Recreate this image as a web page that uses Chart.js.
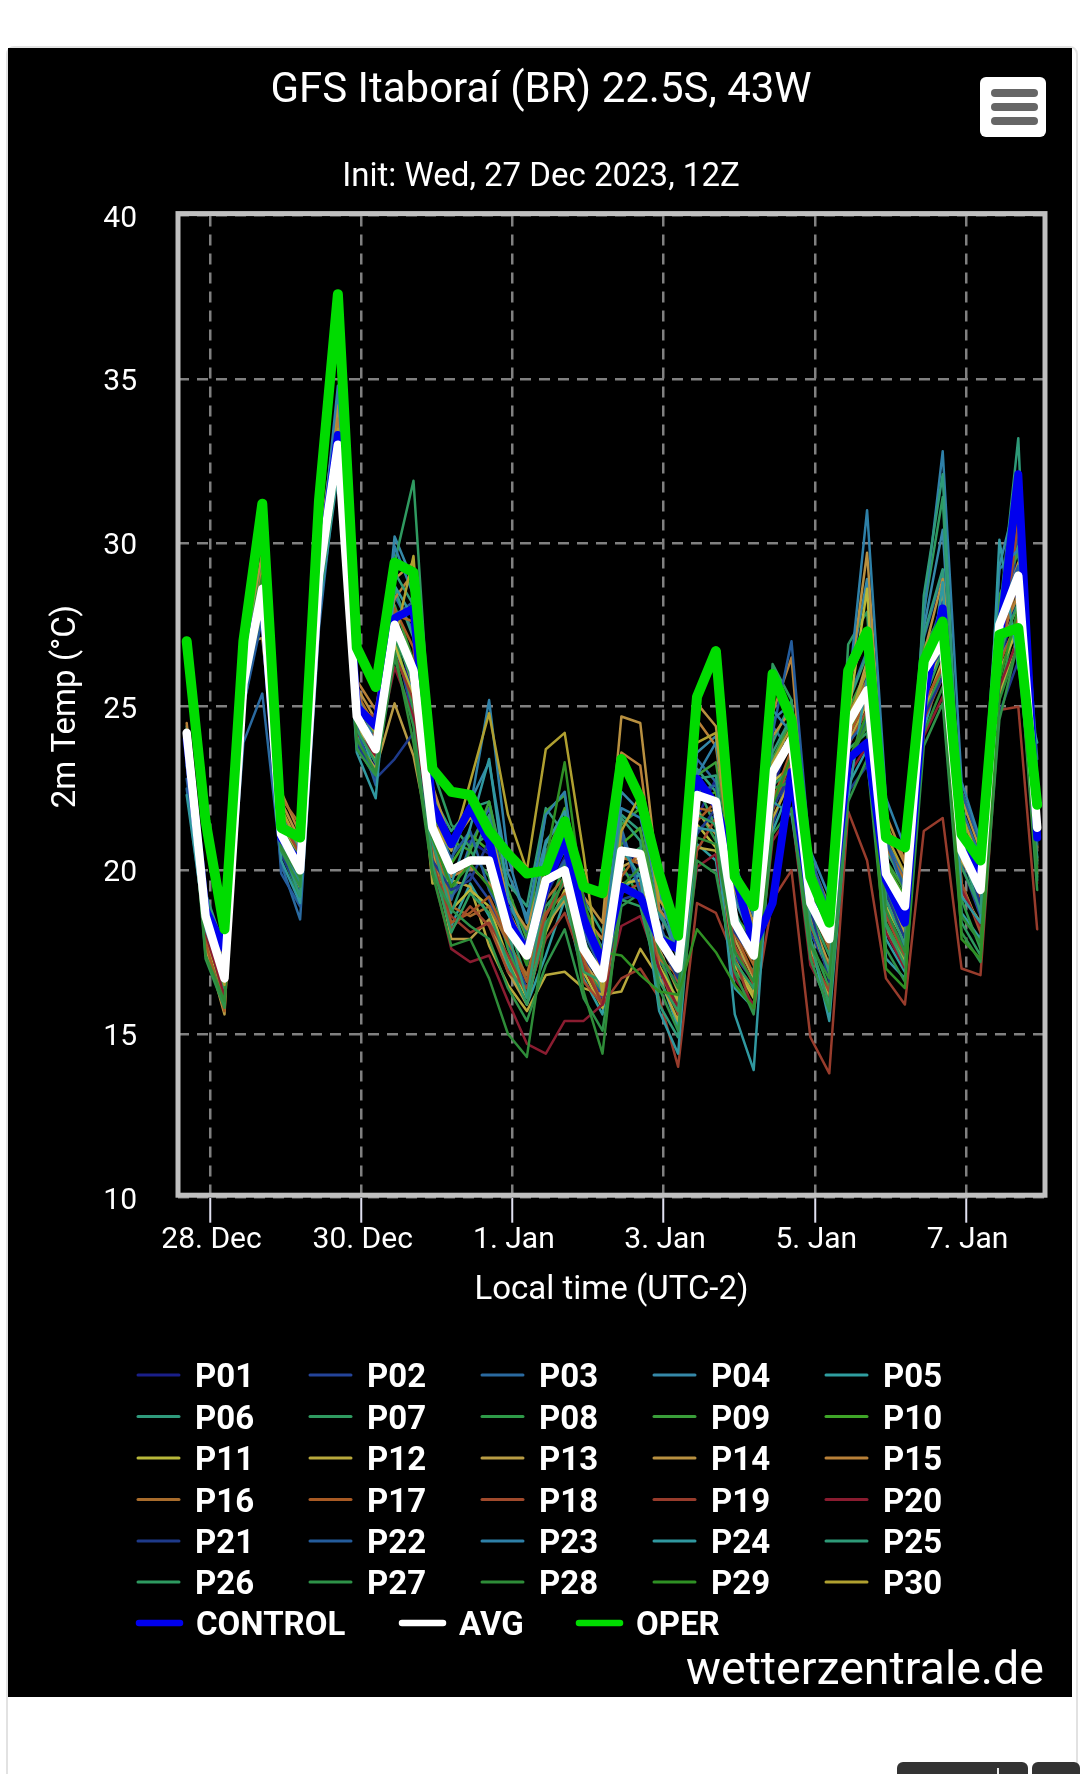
<!DOCTYPE html>
<html><head><meta charset="utf-8">
<style>
html,body{margin:0;padding:0;background:#fff;width:1080px;height:1774px;overflow:hidden;position:relative}
#frame{position:absolute;left:6px;top:46px;width:1068px;height:1740px;border:2px solid #e2e2e2;border-radius:8px;box-sizing:content-box}
#panel{position:absolute;left:8px;top:48px;width:1064px;height:1649px;background:#000}
#menu{position:absolute;left:980px;top:77px;width:66px;height:60px;background:#fff;border-radius:6px}
#menu i{position:absolute;left:11px;width:47px;height:8px;border-radius:4px;background:#666}
.btn{position:absolute;top:1762px;height:14px;background:#333;border-radius:6px 6px 0 0}
#notch{position:absolute;left:997px;top:1768px;width:2px;height:6px;background:#eee}
canvas{position:absolute;left:0;top:0}
</style>
<script src="https://cdn.jsdelivr.net/npm/chart.js@4"></script>
</head><body>
<div id="frame"></div><div id="panel"></div>
<canvas id="c" width="1080" height="1774"></canvas>
<div id="menu"><i style="top:12px"></i><i style="top:26px"></i><i style="top:40px"></i></div>
<div class="btn" style="left:897px;width:131px"></div><div class="btn" style="left:1032px;width:48px"></div><div id="notch"></div>
<script>
const hours=[-7.4,-1.4,4.6,10.6,16.6,22.6,28.6,34.6,40.6,46.6,52.6,58.6,64.6,70.6,76.6,82.6,88.6,94.6,100.6,106.6,112.6,118.6,124.6,130.6,136.6,142.6,148.6,154.6,160.6,166.6,172.6,178.6,184.6,190.6,196.6,202.6,208.6,214.6,220.6,226.6,232.6,238.6,244.6,250.6,256.6,262.6];
const tickHours=[0,48,96,144,192,240];
const tickLabels=['28. Dec','30. Dec','1. Jan','3. Jan','5. Jan','7. Jan'];
const yTicks=[10,15,20,25,30,35,40];

const p01=[24.0,18.9,17.2,25.9,28.9,21.2,20.3,28.7,33.6,24.9,23.2,27.9,25.1,21.8,20.6,20.9,20.5,18.6,17.8,19.2,20.4,18.3,17.3,20.9,20.1,18.2,17.1,21.6,22.8,18.7,17.6,22.4,24.3,19.4,17.7,23.6,26.2,20.4,18.6,25.3,27.6,20.9,19.1,26.2,28.6,22.1];
const p02=[23.6,18.4,16.8,25.1,27.9,20.8,19.6,28.2,33.9,24.3,23.9,27.1,24.6,20.9,19.2,19.9,19.1,17.7,16.4,18.3,19.2,17.4,16.1,19.9,19.8,17.2,16.6,21.2,21.7,17.4,16.6,21.4,23.2,18.1,16.9,23.1,24.7,18.7,17.6,25.6,26.8,20.2,18.6,25.9,30.2,20.6];
const p03=[22.5,18.1,16.4,23.9,25.4,20.2,18.5,27.4,32.6,24.0,23.1,28.4,27.3,21.6,19.1,20.8,21.9,18.9,18.1,20.6,21.3,18.2,17.0,21.3,19.4,18.6,17.8,23.4,22.7,19.2,18.2,24.4,23.6,19.9,18.6,25.2,26.7,20.9,19.8,27.1,29.1,21.9,20.4,28.1,31.1,23.4];
const p04=[23.2,18.9,17.1,26.3,29.1,21.4,20.7,29.6,34.3,25.3,24.4,30.2,28.8,21.9,20.3,22.1,23.3,19.9,18.6,20.9,21.6,18.8,17.6,22.4,21.8,18.9,17.3,23.6,24.1,19.1,17.8,24.6,25.1,19.6,18.1,25.7,28.9,20.8,19.3,27.4,30.4,21.4,19.8,29.3,31.6,22.8];
const p05=[23.9,18.2,16.9,25.4,28.1,20.7,19.4,28.4,32.9,24.6,22.9,26.8,25.4,20.4,18.3,19.6,18.6,17.1,15.9,17.4,19.1,16.7,15.6,19.4,19.9,16.8,15.2,20.8,20.3,16.4,15.8,21.2,22.6,17.2,15.8,22.6,23.7,17.9,16.9,24.3,26.3,18.7,17.9,26.4,27.6,20.4];
const p06=[24.4,19.3,17.6,26.4,29.6,21.7,20.6,29.4,33.7,25.1,24.1,28.6,27.1,22.3,21.2,21.9,22.1,19.6,18.9,21.9,21.1,19.1,18.1,21.7,21.2,18.7,17.6,23.1,22.4,19.3,18.3,23.9,25.2,20.1,18.7,25.1,26.6,20.6,19.6,27.2,29.2,21.3,19.9,28.3,29.9,22.4];
const p07=[23.4,18.8,16.3,25.9,28.4,21.3,19.9,29.7,32.4,24.1,23.0,29.4,31.9,23.1,21.4,20.7,21.1,18.4,16.6,18.9,19.6,17.9,16.6,20.3,20.7,16.9,16.1,22.6,21.3,17.6,16.9,26.3,25.2,18.7,17.4,26.9,27.9,19.4,18.1,27.9,31.4,20.1,18.8,26.9,30.6,20.9];
const p08=[24.1,17.6,16.1,25.2,27.8,20.6,19.1,28.3,33.0,23.8,22.8,27.2,24.9,20.7,19.3,20.6,19.8,17.6,16.2,18.6,20.2,17.1,16.3,20.2,19.1,17.4,15.9,21.9,20.9,16.9,16.3,22.3,22.9,17.9,16.4,23.4,24.4,18.4,17.3,24.8,26.1,19.1,17.6,25.4,27.9,19.8];
const p09=[24.3,19.1,17.4,26.1,29.3,21.4,20.4,29.2,33.4,24.9,24.2,28.1,26.4,21.6,20.9,20.6,22.1,19.4,17.9,21.8,22.3,18.4,17.9,21.4,21.9,18.1,17.7,22.9,23.3,19.6,18.1,23.4,24.6,19.8,18.6,24.9,26.1,20.3,19.4,26.8,27.9,21.2,20.1,28.4,29.7,22.3];
const p10=[24.2,18.4,15.9,25.6,28.6,21.0,19.8,28.9,33.3,24.6,23.6,27.6,26.3,21.4,20.2,21.1,20.6,18.7,17.3,20.4,21.9,17.8,16.8,20.8,21.3,17.7,17.2,22.1,22.4,18.6,17.9,23.2,23.8,19.2,18.3,24.2,25.4,20.2,19.2,25.9,27.3,20.7,19.6,27.1,28.4,21.6];
const p11=[24.0,17.9,16.2,25.0,28.0,20.9,19.7,28.1,32.8,24.2,23.4,26.9,25.3,20.6,18.8,19.4,18.9,17.3,16.1,18.1,19.4,16.9,15.8,19.6,19.7,17.1,16.0,21.4,20.7,17.1,16.1,22.7,23.2,18.4,16.8,24.7,28.6,18.9,17.8,25.7,26.6,19.3,18.4,26.1,27.4,20.3];
const p12=[24.3,18.7,16.6,25.8,28.2,21.3,19.4,29.1,32.9,24.4,23.3,27.4,25.6,19.6,19.7,19.5,17.7,16.5,15.7,16.8,16.9,16.4,16.2,16.3,17.6,16.7,15.4,20.7,20.6,17.3,16.2,21.6,22.8,17.6,16.1,23.9,25.1,18.2,17.2,24.9,26.4,19.6,18.2,25.3,27.2,19.9];
const p13=[24.1,17.7,15.6,26.9,27.1,21.6,20.2,28.6,33.2,23.9,23.1,25.1,23.5,20.6,17.9,17.9,18.5,16.9,15.9,18.3,19.1,17.2,16.4,20.1,20.4,17.6,16.3,21.8,21.1,17.9,16.7,22.9,24.1,18.6,17.1,24.4,26.4,19.1,18.1,25.6,28.4,20.3,19.3,26.8,28.1,20.7];
const p14=[24.2,19.0,17.3,26.6,29.7,22.1,20.9,29.8,34.2,25.6,24.6,28.9,29.4,22.6,20.8,21.6,21.4,19.1,18.2,20.3,21.6,19.2,18.4,24.7,24.5,19.4,17.9,25.1,24.4,19.9,18.4,24.1,24.9,20.3,18.9,25.4,29.7,21.4,20.2,26.6,28.9,22.2,20.6,27.6,29.4,22.6];
const p15=[24.5,18.8,16.9,25.5,29.2,22.4,21.1,28.8,33.8,25.8,24.9,28.3,29.1,22.2,19.8,20.1,19.6,18.8,17.6,20.1,20.9,18.6,17.9,23.6,23.2,18.8,18.1,24.6,23.8,19.6,18.8,24.8,26.5,19.6,18.4,25.8,27.1,21.7,20.3,26.4,27.9,22.4,20.9,27.1,28.4,21.9];
const p16=[24.3,18.3,16.0,25.3,28.3,22.2,21.4,28.5,33.5,25.4,24.4,27.8,27.6,21.1,18.9,18.6,18.9,17.8,16.8,19.1,19.8,17.7,16.3,20.4,20.2,17.3,16.8,21.9,21.8,18.2,17.1,22.8,24.3,18.9,17.6,24.8,25.8,20.7,19.7,25.8,26.9,21.4,19.9,26.6,28.9,21.1];
const p17=[24.2,17.8,15.7,25.4,28.8,21.8,20.8,28.9,33.1,25.2,24.2,28.0,26.8,20.9,18.4,18.7,19.2,17.9,16.6,18.7,19.3,17.3,15.9,19.8,20.6,17.9,16.6,21.5,22.1,18.1,16.8,22.1,23.7,18.3,17.0,24.1,25.2,19.6,18.7,25.1,26.2,20.8,19.2,26.3,27.7,20.6];
const p18=[24.1,18.0,16.3,25.7,28.4,21.5,20.5,29.3,33.4,24.9,24.7,27.3,25.9,20.4,18.2,18.9,18.3,16.9,16.4,18.6,19.7,16.6,15.9,19.3,19.6,17.0,15.6,20.6,21.6,17.7,16.5,21.8,23.4,17.4,16.3,23.8,24.9,18.6,17.4,24.6,25.9,19.6,18.1,26.1,30.7,20.1];
const p19=[24.2,18.2,16.1,25.2,28.1,21.2,20.1,28.4,32.7,24.5,24.1,26.6,25.2,20.2,18.6,18.1,18.4,17.4,16.2,17.9,18.7,17.1,15.9,16.7,17.0,16.1,14.0,19.0,18.7,17.3,15.7,19.1,20.0,14.9,13.8,21.8,20.3,16.7,15.9,21.2,21.6,17.0,16.8,24.9,25.0,18.2];
const p20=[24.0,18.1,16.2,25.1,27.9,21.0,20.2,28.1,32.5,24.2,23.5,26.2,24.7,20.0,17.6,17.2,17.4,16.0,14.7,14.4,15.4,15.4,15.9,18.3,18.6,17.0,15.8,20.1,20.5,16.7,15.9,20.9,21.8,17.1,16.0,22.9,23.8,18.1,17.0,24.1,25.3,19.4,18.3,25.6,27.1,19.6];
const p21=[23.8,18.5,17.0,25.3,28.3,20.5,19.3,28.0,33.2,23.9,22.8,23.4,24.2,20.3,19.4,19.7,20.9,18.9,17.1,19.1,20.9,19.2,16.4,19.1,19.3,17.8,16.7,21.1,21.9,18.1,17.3,21.9,23.0,18.8,16.6,22.4,23.2,19.3,17.9,24.7,25.9,20.9,18.9,24.8,26.4,20.8];
const p22=[22.8,18.3,16.7,25.0,27.7,19.9,18.9,28.3,32.7,24.4,22.6,27.8,28.2,21.1,20.4,21.2,19.4,18.3,17.2,19.4,20.3,18.1,16.9,21.1,19.3,18.4,16.9,22.4,22.6,19.3,18.1,24.2,27.0,20.4,18.8,23.9,24.6,20.9,19.4,26.4,28.2,22.4,20.8,27.9,29.3,21.2];
const p23=[23.3,18.7,17.1,26.2,28.9,20.9,19.6,29.2,34.8,25.4,23.8,29.9,28.4,21.2,20.9,21.9,25.2,20.4,18.4,21.7,22.4,18.3,17.6,21.9,21.6,19.3,17.4,22.9,23.9,20.2,18.6,24.9,24.2,20.6,19.2,25.4,31.0,22.2,20.7,27.8,32.8,22.7,20.9,29.2,29.8,22.9];
const p24=[22.3,18.2,16.6,25.2,28.2,20.3,19.0,27.9,32.1,23.6,22.2,28.7,27.7,21.4,19.6,21.3,23.4,19.2,17.6,20.8,21.8,17.9,16.3,20.7,19.8,15.7,14.4,21.3,21.2,15.6,13.9,22.1,21.7,17.9,15.4,22.2,25.9,17.3,16.7,24.6,28.8,19.2,18.4,30.1,26.2,23.9];
const p25=[23.7,18.6,16.5,25.6,28.7,20.8,19.2,28.6,33.0,24.7,23.7,29.1,28.1,20.9,18.7,20.2,21.7,18.1,16.1,19.6,20.6,18.4,17.1,21.6,20.9,15.9,14.9,22.8,22.9,18.8,17.3,23.6,24.7,18.4,16.9,26.4,27.4,19.1,17.7,28.4,32.1,20.6,18.7,27.8,33.2,20.2];
const p26=[24.0,18.6,16.4,25.8,28.5,21.1,19.7,28.8,33.1,24.3,23.3,27.2,25.7,20.2,18.1,19.3,18.7,17.2,15.9,18.4,19.2,16.9,16.6,19.1,18.9,16.6,15.7,21.7,21.4,17.2,16.4,22.6,23.1,17.8,15.9,23.7,24.2,18.3,17.1,25.2,26.7,18.4,17.4,26.6,28.2,19.7];
const p27=[24.1,17.3,15.8,25.5,28.0,20.6,19.5,28.2,32.3,23.7,22.9,26.5,24.4,19.9,18.8,18.3,17.9,16.4,15.4,17.1,18.2,16.1,15.1,18.9,19.3,16.4,15.1,20.3,19.9,16.9,15.6,21.1,21.9,17.3,15.7,22.1,23.4,17.6,16.6,23.8,25.1,18.1,17.2,24.6,27.0,19.4];
const p28=[24.2,17.4,16.0,25.4,28.1,20.7,19.8,28.4,32.6,24.0,23.0,26.7,23.9,19.9,17.7,17.9,16.7,15.0,14.3,18.2,19.9,16.3,14.4,19.5,20.1,17.5,16.4,21.0,20.8,17.5,16.6,22.5,22.7,17.7,16.7,23.2,24.5,18.8,17.5,24.2,25.6,18.6,17.8,25.2,26.9,20.0];
const p29=[24.3,18.9,16.8,26.0,29.0,21.3,20.3,29.0,33.3,24.5,23.7,27.7,26.0,21.0,19.5,20.2,19.5,18.5,17.1,20.3,23.3,19.0,17.5,17.4,16.8,16.3,16.2,18.2,17.5,16.5,15.8,22.0,23.5,19.3,18.2,23.3,24.8,17.0,16.4,25.4,27.2,17.9,17.3,25.8,28.0,21.1];
const p30=[24.2,18.5,16.5,25.9,28.6,21.9,20.7,29.4,33.5,25.0,24.2,27.0,29.6,21.5,20.6,22.7,24.8,21.7,20.0,23.7,24.2,20.5,16.2,21.2,22.3,19.1,18.3,23.9,24.2,19.4,18.0,23.3,24.4,19.5,18.5,24.6,26.1,21.1,19.9,26.2,28.0,21.7,20.2,27.3,29.1,22.2];
const control=[24,18.8,17.6,26,28.5,21,20.2,29,33.3,25,24.4,27.7,28,22,20.8,21.9,20.9,18.5,17.5,19.5,20.9,18.5,17.2,19.5,19.2,17.9,17.6,22.8,22,19.9,17.7,19,23,19,18.2,23.4,23.9,19.7,18.4,25.3,28,20.8,19.8,27,32.1,21];
const avg=[24.2,18.6,16.7,25.7,28.6,21.1,20,29,33,24.7,23.7,27.5,26.1,21.3,20,20.3,20.3,18.2,17.4,19.7,20,17.6,16.7,20.6,20.5,17.9,17,22.3,22.1,18.4,17.4,23,24,19,17.9,24.5,25.5,19.9,18.9,26.1,27,20.6,19.4,27.5,29,21.3];
const oper=[27,21.5,18.2,27,31.2,21.3,21,31.3,37.6,26.8,25.6,29.4,29.1,23.1,22.4,22.3,21.2,20.5,19.9,20,21.5,19.5,19.3,23.4,22.2,19.9,18,25.3,26.7,19.8,18.9,26,24.6,19.8,18.4,26.1,27.3,21,20.7,26.4,27.6,21.1,20.3,27.2,27.4,22];

const members=[p01,p02,p03,p04,p05,p06,p07,p08,p09,p10,p11,p12,p13,p14,p15,p16,p17,p18,p19,p20,p21,p22,p23,p24,p25,p26,p27,p28,p29,p30];
const memberNames=['P01','P02','P03','P04','P05','P06','P07','P08','P09','P10','P11','P12','P13','P14','P15','P16','P17','P18','P19','P20','P21','P22','P23','P24','P25','P26','P27','P28','P29','P30'];
const memberColors=['#1a1f8a','#24449a','#2a6aa0','#3588a8','#2f9ea0','#2f9a7c','#2f9a60','#2e9a48','#3a9e3a','#3fa528','#b8b83a','#b8a83c','#b89c44','#b89040','#b88038','#a86c2c','#a85a24','#a04a2c','#983c2c','#8a1c30','#1e3a8a','#245c9c','#2e80a8','#3098a0','#2e9a78','#2e9a60','#2e9248','#2e8c38','#2f9024','#b0a030'];

const xy=v=>v.map((y,i)=>({x:hours[i],y}));
const datasets=members.map((v,i)=>({label:memberNames[i],data:xy(v),borderColor:memberColors[i],borderWidth:2.5,order:40-i}));
datasets.push({label:'CONTROL',data:xy(control),borderColor:'#0000ee',borderWidth:8,order:3});
datasets.push({label:'AVG',data:xy(avg),borderColor:'#ffffff',borderWidth:8.5,order:2});
datasets.push({label:'OPER',data:xy(oper),borderColor:'#00dc00',borderWidth:10,order:1});

const FONT='Roboto';
const plotFrame={id:'plotFrame',beforeDatasetsDraw(ch){const a=ch.chartArea,c=ch.ctx;c.save();c.strokeStyle='#c0c0c0';c.lineWidth=5;c.strokeRect(a.left,a.top-2,a.right-a.left,a.bottom-a.top-0.5);c.restore();}};
const sideLegend={id:'sideLegend',afterDraw(ch){
  const c=ch.ctx,colX=[137,309,481,653,825],rowY=[1375,1416.5,1458,1499.5,1541,1582,1623];
  c.save();c.textBaseline='middle';c.textAlign='left';c.font='bold 33px '+FONT;c.lineCap='round';
  const item=(ds,x,y,w)=>{c.strokeStyle=ds.borderColor;c.lineWidth=w;c.beginPath();c.moveTo(x+1,y);c.lineTo(x+42,y);c.stroke();c.fillStyle='#fff';c.fillText(ds.label,x+58,y+4);};
  ch.data.datasets.forEach((ds,i)=>{
    if(i<30) item(ds,colX[i%5],rowY[Math.floor(i/5)],3);
    else item(ds,[138,401,578][i-30],rowY[6],6.5);
  });
  c.font='46.5px '+FONT;c.textAlign='right';c.fillStyle='#fff';c.fillText('wetterzentrale.de',1044,1672.5);
  c.restore();
}};

new Chart(document.getElementById('c'),{
  type:'line',
  data:{datasets},
  plugins:[plotFrame,sideLegend],
  options:{
    responsive:false,animation:false,devicePixelRatio:1,
    layout:{padding:{left:37,right:35,top:0,bottom:456.3}},
    elements:{point:{radius:0},line:{tension:0,borderJoinStyle:'round',borderCapStyle:'round'}},
    plugins:{
      legend:{display:false},tooltip:{enabled:false},
      title:{display:true,text:'GFS Itaboraí (BR) 22.5S, 43W',color:'#fff',font:{family:FONT,size:42,weight:'normal'},padding:{top:66,bottom:0}},
      subtitle:{display:true,text:'Init: Wed, 27 Dec 2023, 12Z',color:'#fff',font:{family:FONT,size:33,weight:'normal'},padding:{top:41.2,bottom:18.4}}
    },
    scales:{
      x:{type:'linear',min:-10.16,max:265.08,
        afterBuildTicks:s=>{s.ticks=tickHours.map(value=>({value}));},
        afterFit:s=>{s.height=120;},
        grid:{color:'#808080',lineWidth:2.5,drawTicks:true,tickLength:25,tickColor:'#e0e0f0',tickWidth:2,tickBorderDash:[]},
        border:{display:false,dash:[11,8]},
        ticks:{color:'#fff',font:{family:FONT,size:30},padding:0,labelOffset:1.5,maxRotation:0,autoSkip:false,callback:v=>tickLabels[tickHours.indexOf(v)]},
        title:{display:true,text:'Local time (UTC-2)',color:'#fff',font:{family:FONT,size:33},padding:{top:0,bottom:7.3}}
      },
      y:{type:'linear',min:10,max:40,
        afterBuildTicks:s=>{s.ticks=yTicks.map(value=>({value}));},
        afterFit:s=>{s.width=141;},
        grid:{color:'#808080',lineWidth:2.5,drawTicks:false},
        border:{display:false,dash:[11,8]},
        ticks:{color:'#fff',font:{family:FONT,size:30},padding:41,labelOffset:3.5},
        title:{display:true,text:'2m Temp (°C)',color:'#fff',font:{family:FONT,size:33},padding:{top:10,bottom:0}}
      }
    }
  }
});
</script>
</body></html>
